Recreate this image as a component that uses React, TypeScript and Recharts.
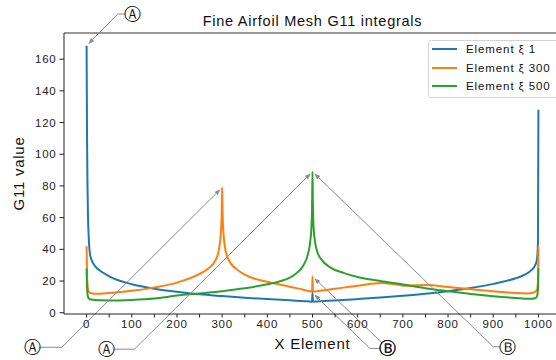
import React from "react";
import { LineChart, Line, XAxis, YAxis, ReferenceLine, ReferenceDot } from "recharts";

// G11 values, per element
const element1 = [
  { x: 0, g: 168.5 }, { x: 1, g: 110 }, { x: 2, g: 80 }, { x: 3, g: 62 }, { x: 5, g: 46 },
  { x: 7, g: 38 }, { x: 10, g: 34 }, { x: 20, g: 29 }, { x: 30, g: 26.5 }, { x: 50, g: 23 },
  { x: 75, g: 20 }, { x: 100, g: 18 }, { x: 150, g: 15.2 }, { x: 200, g: 13.2 }, { x: 250, g: 11.6 },
  { x: 300, g: 10.5 }, { x: 350, g: 9.5 }, { x: 400, g: 8.6 }, { x: 450, g: 7.8 }, { x: 490, g: 7.2 },
  { x: 499, g: 7.0 }, { x: 500, g: 12.6 }, { x: 501, g: 7.0 }, { x: 510, g: 7.1 }, { x: 550, g: 7.7 },
  { x: 600, g: 8.6 }, { x: 650, g: 9.6 }, { x: 700, g: 10.7 }, { x: 750, g: 12 }, { x: 800, g: 13.6 },
  { x: 850, g: 15.6 }, { x: 900, g: 18.2 }, { x: 950, g: 21.8 }, { x: 970, g: 24 }, { x: 985, g: 27 },
  { x: 993, g: 30 }, { x: 997, g: 34 }, { x: 999, g: 45 }, { x: 1000, g: 128 },
];

const element300 = [
  { x: 0, g: 42 }, { x: 1, g: 24 }, { x: 3, g: 15 }, { x: 5, g: 13.2 }, { x: 10, g: 12.3 },
  { x: 20, g: 11.9 }, { x: 50, g: 12.4 }, { x: 100, g: 13.8 }, { x: 150, g: 16 }, { x: 200, g: 19 },
  { x: 250, g: 24.5 }, { x: 270, g: 28 }, { x: 285, g: 33 }, { x: 293, g: 40 }, { x: 297, g: 50 },
  { x: 299, g: 62 }, { x: 300, g: 79 }, { x: 301, g: 62 }, { x: 303, g: 50 }, { x: 307, g: 40 },
  { x: 315, g: 33 }, { x: 330, g: 28 }, { x: 350, g: 24 }, { x: 400, g: 19.5 }, { x: 450, g: 16.4 },
  { x: 480, g: 14.5 }, { x: 499, g: 13.4 }, { x: 500, g: 22.9 }, { x: 501, g: 13.4 }, { x: 520, g: 14 },
  { x: 550, g: 15.2 }, { x: 600, g: 17 }, { x: 630, g: 18.3 }, { x: 655, g: 18.8 }, { x: 680, g: 18 },
  { x: 705, g: 17.1 }, { x: 730, g: 17.4 }, { x: 755, g: 17.5 }, { x: 800, g: 16.2 }, { x: 850, g: 14.8 },
  { x: 900, g: 13.5 }, { x: 950, g: 12.4 }, { x: 975, g: 12.2 }, { x: 990, g: 12.8 }, { x: 997, g: 14.5 },
  { x: 999, g: 20 }, { x: 1000, g: 42 },
];

const element500 = [
  { x: 0, g: 28 }, { x: 1, g: 16 }, { x: 2, g: 12 }, { x: 3, g: 10.2 }, { x: 5, g: 9 },
  { x: 10, g: 8.3 }, { x: 30, g: 7.8 }, { x: 50, g: 7.7 }, { x: 100, g: 8.1 }, { x: 150, g: 9 },
  { x: 200, g: 10.8 }, { x: 250, g: 12.2 }, { x: 300, g: 13.6 }, { x: 350, g: 15.4 }, { x: 400, g: 18 },
  { x: 430, g: 20 }, { x: 460, g: 24 }, { x: 480, g: 30 }, { x: 490, g: 37 }, { x: 495, g: 45 },
  { x: 498, g: 56 }, { x: 499, g: 66 }, { x: 500, g: 89 }, { x: 501, g: 66 }, { x: 502, g: 56 },
  { x: 505, g: 46 }, { x: 510, g: 39 }, { x: 520, g: 33.5 }, { x: 540, g: 28.5 }, { x: 570, g: 25 },
  { x: 600, g: 22.5 }, { x: 650, g: 20 }, { x: 700, g: 17.8 }, { x: 750, g: 15.5 }, { x: 800, g: 13.6 },
  { x: 850, g: 11.8 }, { x: 900, g: 10.4 }, { x: 950, g: 9.3 }, { x: 980, g: 8.8 }, { x: 993, g: 9.2 },
  { x: 997, g: 10.5 }, { x: 999, g: 15 }, { x: 1000, g: 28 },
];

const series = [
  { name: "Element ξ 1", color: "#1f77b4", data: element1 },
  { name: "Element ξ 300", color: "#ff7f0e", data: element300 },
  { name: "Element ξ 500", color: "#2ca02c", data: element500 },
];

const xTicks = [0, 50, 100, 150, 200, 250, 300, 350, 400, 450, 500, 550, 600, 650, 700, 750, 800, 850, 900, 950, 1000];
const yTicks = [0, 20, 40, 60, 80, 100, 120, 140, 160];
const xDomain = [-50, 1050];
const yDomain = [-0.8, 176.5];

// callouts: label position, bend point of the leader, and the point it marks
const notes = [
  { text: "Ⓐ", pos: { x: 102, y: 188.5 }, bend: { x: 69, y: 188.5 }, target: { x: 0, y: 168.5 } },
  { text: "Ⓐ", pos: { x: -120, y: -21.8 }, bend: { x: -55, y: -21.8 }, target: { x: 300, y: 79 } },
  { text: "Ⓐ", pos: { x: 44, y: -23 }, bend: { x: 106, y: -23 }, target: { x: 500, y: 89 } },
  { text: "Ⓑ", pos: { x: 667, y: -22.5 }, bend: { x: 627, y: -22.5 }, target: { x: 500, y: 12.6 } },
  { text: "Ⓑ", pos: { x: 667, y: -22.5 }, bend: null, target: { x: 500, y: 22.9 } },
  { text: "Ⓑ", pos: { x: 931, y: -21.5 }, bend: { x: 900, y: -21.5 }, target: { x: 500, y: 89 } },
];

const GRAY = "#8a8a8a";

function leader(shrinkA: number, shrinkB: number, head: boolean) {
  return (p: any) => {
    const { x1, y1, x2, y2 } = p;
    const dx = x2 - x1;
    const dy = y2 - y1;
    const len = Math.hypot(dx, dy) || 1;
    const ux = dx / len;
    const uy = dy / len;
    const sx = x1 + ux * shrinkA;
    const sy = y1 + uy * shrinkA;
    const ex = x2 - ux * shrinkB;
    const ey = y2 - uy * shrinkB;
    const hl = 6;
    const hw = 2.2;
    const bx = ex - ux * hl;
    const by = ey - uy * hl;
    return (
      <g>
        <line x1={sx} y1={sy} x2={head ? bx : ex} y2={head ? by : ey} stroke={GRAY} strokeWidth={1} />
        {head && (
          <polygon
            points={`${ex},${ey} ${bx - uy * hw},${by + ux * hw} ${bx + uy * hw},${by - ux * hw}`}
            fill={GRAY}
          />
        )}
      </g>
    );
  };
}

const circled = (text: string) => (p: any) => (
  <text
    x={p.cx}
    y={p.cy}
    textAnchor="middle"
    dominantBaseline="central"
    fontSize={17}
    fontFamily="DejaVu Sans"
    letterSpacing={0}
    fill="#111"
  >
    {text}
  </text>
);

export default function App() {
  return (
    <div
      style={{
        position: "absolute",
        left: 0,
        top: 0,
        width: 556,
        height: 360,
        overflow: "hidden",
        background: "#fff",
        fontFamily: '"Liberation Sans", Arial, sans-serif',
        letterSpacing: "0.75px",
        color: "#111",
      }}
    >
      <div
        style={{
          position: "absolute",
          left: 64,
          width: 497,
          top: 12,
          textAlign: "center",
          fontSize: 14.5,
          lineHeight: "18px",
        }}
      >
        Fine Airfoil Mesh G11 integrals
      </div>
      <LineChart width={561} height={360} margin={{ top: 33, right: 0, bottom: 0, left: 0 }}>
        <XAxis
          type="number"
          dataKey="x"
          domain={xDomain}
          ticks={xTicks}
          allowDataOverflow
          height={46}
          tickSize={3.5}
          tickMargin={2.5}
          stroke="#222"
          tick={{ fill: "#222", fontSize: 11.5 }}
          tickFormatter={(v: number) => (v % 100 === 0 ? String(v) : "")}
          label={{ value: "X Element", position: "insideBottom", offset: 11, fill: "#111", fontSize: 15 }}
        />
        <YAxis
          type="number"
          domain={yDomain}
          ticks={yTicks}
          allowDataOverflow
          width={64}
          tickSize={4.5}
          tickMargin={3}
          stroke="#222"
          tick={{ fill: "#222", fontSize: 11.5 }}
          label={{
            value: "G11 value",
            angle: -90,
            position: "insideLeft",
            offset: 18.5,
            fill: "#111",
            fontSize: 15,
            style: { textAnchor: "middle" },
          }}
        />
        <ReferenceLine y={yDomain[1]} stroke="#333" strokeWidth={1} ifOverflow="visible" />
        {series.map((s) => (
          <Line
            key={s.name}
            data={s.data}
            dataKey="g"
            name={s.name}
            type="monotone"
            stroke={s.color}
            strokeWidth={2}
            dot={false}
            isAnimationActive={false}
          />
        ))}
        {notes.map((n, i) =>
          n.bend ? (
            <ReferenceLine
              key={`h${i}`}
              segment={[n.pos, n.bend]}
              ifOverflow="visible"
              shape={leader(7, 0, false)}
            />
          ) : null
        )}
        {notes.map((n, i) => (
          <ReferenceLine
            key={`a${i}`}
            segment={[n.bend || n.pos, n.target]}
            ifOverflow="visible"
            shape={leader(n.bend ? 0 : 8, 2.5, true)}
          />
        ))}
        {notes.map((n, i) => (
          <ReferenceDot key={`t${i}`} x={n.pos.x} y={n.pos.y} r={6} ifOverflow="visible" shape={circled(n.text)} />
        ))}
      </LineChart>
      <div
        style={{
          position: "absolute",
          left: 428,
          top: 40,
          width: 132,
          height: 56,
          border: "1px solid #d4d4d4",
          borderRadius: 3,
          background: "rgba(255,255,255,0.85)",
          fontSize: 11.5,
          letterSpacing: "0.9px",
        }}
      >
        {series.map((s, i) => (
          <div key={s.name} style={{ position: "absolute", left: 0, top: 1 + i * 18.5, height: 14, width: 132 }}>
            <div style={{ position: "absolute", left: 3, top: 6, width: 25, height: 2, background: s.color }} />
            <div style={{ position: "absolute", left: 37, top: 0, lineHeight: "14px", whiteSpace: "nowrap" }}>{s.name}</div>
          </div>
        ))}
      </div>
    </div>
  );
}
